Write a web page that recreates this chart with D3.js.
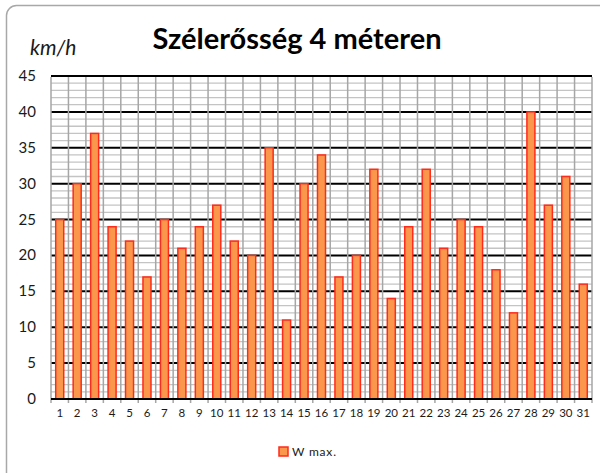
<!DOCTYPE html>
<html>
<head>
<meta charset="utf-8">
<script src="https://cdn.jsdelivr.net/npm/d3@7"></script>
<style>
  body { margin: 0; background: #fff; }
  text { font-family: Lato, "Open Sans", sans-serif; fill: #1a1a1a; }
</style>
</head>
<body>
<svg></svg>
<script>
const days = d3.range(1, 32).map(String);
const wMax = [25, 30, 37, 24, 22, 17, 25, 21, 24, 27, 22, 20, 35, 11, 30, 34,
  17, 20, 32, 14, 24, 32, 21, 25, 24, 18, 12, 40, 27, 31, 16];
const yTicks = [0, 5, 10, 15, 20, 25, 30, 35, 40, 45];
const seriesName = 'W max.';

const [svgWidth, svgHeight] = [600, 473];
const svg = d3.select('svg')
  .attr('width', svgWidth)
  .attr('height', svgHeight);

// outer chart frame
svg.append('rect')
  .attr('x', 6.5).attr('y', 5.5)
  .attr('width', 630).attr('height', 490)
  .attr('rx', 10)
  .attr('fill', 'none')
  .attr('stroke', '#a8a8a8')
  .attr('stroke-width', 1.5);

const plot = {left: 51, top: 76, right: 592, bottom: 399};

const x = d3.scaleBand()
  .domain(days)
  .range([plot.left, plot.right])
  .paddingInner(0.54)
  .paddingOuter(0.27);
const xEdge = d3.scaleLinear()
  .domain([0, days.length])
  .range([plot.left, plot.right]);
const y = d3.scaleLinear()
  .domain([0, 45])
  .range([plot.bottom, plot.top]);

// minor horizontal grid
svg.append('g')
  .selectAll('line')
  .data(d3.range(0, 46).filter(v => v % 5 !== 0))
  .join('line')
  .attr('x1', plot.left).attr('x2', plot.right)
  .attr('y1', d => y(d)).attr('y2', d => y(d))
  .attr('stroke', '#c4c4c4')
  .attr('stroke-width', 1.3);

// major horizontal grid
svg.append('g')
  .selectAll('line')
  .data(yTicks.slice(1))
  .join('line')
  .attr('x1', plot.left).attr('x2', plot.right)
  .attr('y1', d => y(d)).attr('y2', d => y(d))
  .attr('stroke', '#000')
  .attr('stroke-width', 2);

// vertical grid at category edges (with ticks below the axis)
svg.append('g')
  .selectAll('line')
  .data(d3.range(0, days.length + 1))
  .join('line')
  .attr('x1', d => xEdge(d)).attr('x2', d => xEdge(d))
  .attr('y1', plot.top + 1).attr('y2', plot.bottom + 4)
  .attr('stroke', '#a6a6a6')
  .attr('stroke-width', 1.5);

// bars
svg.append('g')
  .selectAll('rect')
  .data(wMax)
  .join('rect')
  .attr('x', (d, i) => x(days[i]))
  .attr('y', d => y(d))
  .attr('width', x.bandwidth())
  .attr('height', d => y(0) - y(d))
  .attr('fill', '#fb974c')
  .attr('stroke', '#ff2a1a')
  .attr('stroke-width', 1.5);

// x axis line
svg.append('line')
  .attr('x1', plot.left).attr('x2', plot.right)
  .attr('y1', plot.bottom).attr('y2', plot.bottom)
  .attr('stroke', '#000')
  .attr('stroke-width', 2);

// y tick labels
svg.append('g')
  .selectAll('text')
  .data(yTicks)
  .join('text')
  .attr('x', 36)
  .attr('y', d => y(d) + 5)
  .attr('text-anchor', 'end')
  .attr('font-size', 15)
  .text(d => d);

// x tick labels
svg.append('g')
  .selectAll('text')
  .data(days)
  .join('text')
  .attr('x', d => x(d) + x.bandwidth() / 2)
  .attr('y', 417)
  .attr('text-anchor', 'middle')
  .attr('font-size', 11.5)
  .text(d => d);

// title and unit
svg.append('text')
  .attr('x', 297)
  .attr('y', 49)
  .attr('text-anchor', 'middle')
  .attr('font-size', 29)
  .attr('font-weight', 'bold')
  .style('fill', '#000')
  .text('Szélerősség 4 méteren');

svg.append('text')
  .attr('x', 30)
  .attr('y', 55)
  .attr('font-size', 21)
  .attr('font-style', 'italic')
  .text('km/h');

// legend
const legend = svg.append('g')
  .attr('transform', 'translate(279, 447)');
legend.append('rect')
  .attr('width', 9).attr('height', 9)
  .attr('fill', '#fb974c')
  .attr('stroke', '#ff2a1a')
  .attr('stroke-width', 1.5);
legend.append('text')
  .attr('x', 13)
  .attr('y', 9)
  .attr('font-size', 12)
  .attr('letter-spacing', 0.8)
  .text(seriesName);
</script>
</body>
</html>
